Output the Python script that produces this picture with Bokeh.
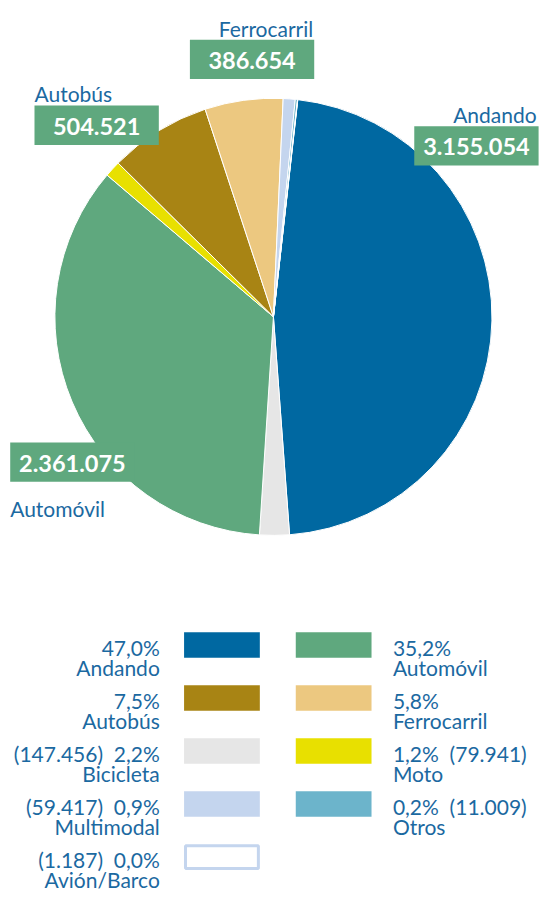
import math
from bokeh.plotting import figure
from bokeh.models import Range1d, ColumnDataSource
from bokeh.core.properties import value
from bokeh.embed import file_html
from bokeh.resources import INLINE

# ---------------- data ----------------
categories = ["Andando", "Automóvil", "Autobús", "Ferrocarril", "Bicicleta",
              "Moto", "Multimodal", "Otros", "Avión/Barco"]
values = [3155054, 2361075, 504521, 386654, 147456, 79941, 59417, 11009, 1187]
colors = ["#0068a1", "#5fa87e", "#a88414", "#ecc880", "#e6e6e6",
          "#e8e000", "#c4d5ee", "#6cb4cb", "#ffffff"]
pie_order = ["Andando", "Bicicleta", "Automóvil", "Moto", "Autobús",
             "Ferrocarril", "Multimodal", "Otros", "Avión/Barco"]
labelled = ["Andando", "Ferrocarril", "Autobús", "Automóvil"]

# ---------------- style ----------------
W, H = 541, 892          # figure size in screen px
RW, RH = 557, 908        # layout space (reference pixels)
FONT = "Lato"
BLUE = "#1b69a1"
BOX_GREEN = "#5fa87e"
TXT = "21px"

def X(px):
    return px

def Y(py):
    return RH - py

def fmt_int(v):
    return f"{v:,}".replace(",", ".")

total = sum(values)
def fmt_pct(v):
    return f"{100.0 * v / total:.1f}".replace(".", ",") + "%"

p = figure(width=W, height=H, output_backend="svg", toolbar_location=None,
           x_range=Range1d(0, RW), y_range=Range1d(0, RH), min_border=0)
p.axis.visible = False
p.grid.visible = False
p.outline_line_color = None
p.background_fill_color = "white"
p.border_fill_color = "white"

# ---------------- pie ----------------
cx, cy, r = X(281), Y(322), 225
start_offset = 6.4  # degrees clockwise from 12 o'clock
idx = {c: i for i, c in enumerate(categories)}
starts, ends, cols = [], [], []
cum = start_offset
for c in pie_order:
    span = 360.0 * values[idx[c]] / total
    a0, a1 = cum, cum + span
    starts.append(math.radians(90 - a1))
    ends.append(math.radians(90 - a0))
    cols.append(colors[idx[c]])
    cum = a1
pie_src = ColumnDataSource(dict(x=[cx] * len(pie_order), y=[cy] * len(pie_order),
                                s=starts, e=ends, c=cols))
p.wedge(x="x", y="y", radius=r, start_angle="s", end_angle="e",
        direction="anticlock", fill_color="c", line_color="white",
        line_width=1, source=pie_src)

# ---------------- data labels ----------------
# (box left px, box top px, label align, label baseline px, label anchor x px)
label_layout = {
    "Andando": (426, 128, "right", 116, 552),
    "Ferrocarril": (195, 40, "right", 28, 322),
    "Autobús": (35, 107, "left", 95, 35),
    "Automóvil": (10, 450, "left", 517, 10),
}
BOX_W, BOX_H = 128, 40
for c in labelled:
    bl, bt, al, lb, lx = label_layout[c]
    p.quad(left=[X(bl)], right=[X(bl + BOX_W)], top=[Y(bt)], bottom=[Y(bt + BOX_H)],
           fill_color=BOX_GREEN, line_color=None)
    p.text(x=[X(bl + BOX_W / 2)], y=[Y(bt + BOX_H / 2 + 1)], text=[fmt_int(values[idx[c]])],
           text_font=value(FONT), text_font_style="bold", text_font_size="23.5px",
           text_color="white", text_align="center", text_baseline="middle")
    p.text(x=[X(lx)], y=[Y(lb)], text=[c], text_font=value(FONT),
           text_font_size=TXT, text_color=BLUE, text_align=al,
           text_baseline="alphabetic")

# ---------------- legend ----------------
row_centers = [656, 710, 764, 818, 872]
sw_left = [(189, 267), (304, 382)]
text_x = [(164, "right"), (404, "left")]
SW_H = 26
for i, c in enumerate(categories):
    col, row = i % 2, i // 2
    yc = row_centers[row]
    v = values[i]
    if c in labelled:
        line1 = fmt_pct(v)
    elif col == 0:
        line1 = f"({fmt_int(v)})\u00a0 {fmt_pct(v)}"
    else:
        line1 = f"{fmt_pct(v)}\u00a0 ({fmt_int(v)})"
    l, rr = sw_left[col]
    if c == "Avión/Barco":
        p.quad(left=[X(l + 1.5)], right=[X(rr - 1.5)], top=[Y(yc - SW_H / 2 + 1.5)],
               bottom=[Y(yc + SW_H / 2 - 1.5)], fill_color="white",
               line_color="#c4d5ee", line_width=3)
    else:
        p.quad(left=[X(l)], right=[X(rr)], top=[Y(yc - SW_H / 2)],
               bottom=[Y(yc + SW_H / 2)], fill_color=colors[i], line_color=None)
    tx, ta = text_x[col]
    p.text(x=[X(tx), X(tx)], y=[Y(yc + 2.5), Y(yc + 22.5)],
           text=[line1, c], text_font=value(FONT), text_font_size=TXT,
           text_color=BLUE, text_align=ta, text_baseline="alphabetic")

open("out.html", "w").write(file_html(p, INLINE))
